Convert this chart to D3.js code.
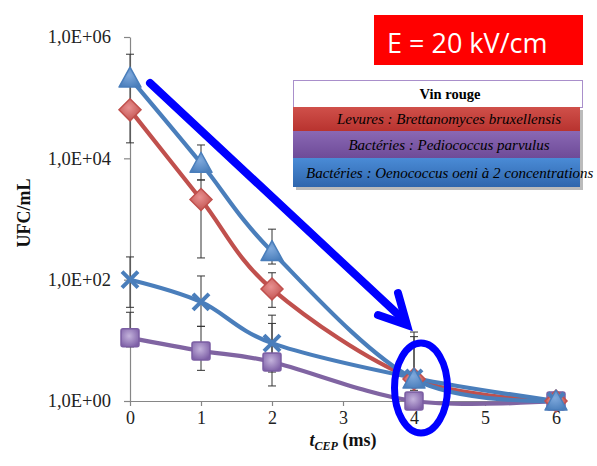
<!DOCTYPE html>
<html><head><meta charset="utf-8">
<script src="https://cdn.jsdelivr.net/npm/d3@7"></script>
<style>body{margin:0;background:#fff}svg{display:block}</style>
</head><body>
<svg id="c" width="597" height="466"></svg>
<script>
const xValues = [0, 1, 2, 4, 6];
const xTicks = [0, 1, 2, 3, 4, 5, 6];
const yTicks = [1, 100, 1e4, 1e6];
const yTickLabels = ["1,0E+00", "1,0E+02", "1,0E+04", "1,0E+06"];
const seriesNames = ["Pediococcus", "Brettanomyces", "Oenococcus bas", "Oenococcus haut"];
const pediococcus = [11, 6.7, 4.4, 1, 1];
const brettanomyces = [63000, 2100, 70, 2.3, 1];
const oenococcusLow = [100, 43, 9, 2.4, 1];
const oenococcusHigh = [210000, 8300, 290, 2.3, 1];
const errPediococcus = [[7.8, 29], [3.2, 17], [1.77, 19], null, null];
const errBrettanomyces = [null, [228, 4400], [35, 130], null, null];
const errOenococcusLow = [[35, 237], [17, 115], [3, 26], [2, 11.5], null];
const errOenococcusHigh = [[18000, 520000], [4400, 16600], [181, 680], [1.5, 13.7], null];
const legendTitle = "Vin rouge";
const legendItems = ["Levures : Brettanomyces bruxellensis", "Bactéries : Pediococcus parvulus", "Bactéries : Oenococcus oeni à 2 concentrations"];
const fieldLabel = "E = 20 kV/cm";

const svg = d3.select("#c");
const x = d3.scaleLinear().domain([0, 6]).range([130, 556]);
const y = d3.scaleLog().domain([1, 1e6]).range([401, 37]);

const defs = svg.append("defs");
function radial(id, inner, outer) {
  const g = defs.append("radialGradient").attr("id", id).attr("cx", "45%").attr("cy", "40%").attr("r", "65%");
  g.append("stop").attr("offset", "0%").attr("stop-color", inner);
  g.append("stop").attr("offset", "100%").attr("stop-color", outer);
}
radial("gPurple", "#c4b3dc", "#7d5fa6");
radial("gRed", "#e89090", "#c0504d");
radial("gBlue", "#7fa9dc", "#4a7ebb");
function linear(id, top, bottom) {
  const g = defs.append("linearGradient").attr("id", id).attr("x1", 0).attr("y1", 0).attr("x2", 0).attr("y2", 1);
  g.append("stop").attr("offset", "0%").attr("stop-color", top);
  g.append("stop").attr("offset", "100%").attr("stop-color", bottom);
}
linear("bRed", "#d0504a", "#b8332f");
linear("bPurple", "#8a68b4", "#6e4b98");
linear("bBlue", "#4a8bd6", "#2f66ad");

// axes
const axisColor = "#868686";
const yAxis = d3.axisLeft(y).tickValues(yTicks).tickFormat((d, i) => yTickLabels[i]).tickSize(6).tickSizeOuter(0);
const gy = svg.append("g").attr("transform", "translate(130,0)").call(yAxis);
gy.select(".domain").attr("stroke", axisColor).attr("stroke-width", 1.2);
gy.selectAll(".tick line").attr("stroke", axisColor).attr("stroke-width", 1.2);
gy.selectAll(".tick text").attr("font-family", "Liberation Serif").attr("font-size", 18.5).attr("fill", "#222").attr("x", -19);

const xAxis = d3.axisBottom(x).tickValues(xTicks).tickFormat(d3.format("d")).tickSize(5).tickSizeOuter(0);
const gx = svg.append("g").attr("transform", "translate(0,401)").call(xAxis);
gx.select(".domain").attr("stroke", axisColor).attr("stroke-width", 1.2);
gx.selectAll(".tick line").attr("stroke", axisColor).attr("stroke-width", 1.2);
gx.selectAll(".tick text").attr("font-family", "Liberation Serif").attr("font-size", 18).attr("fill", "#222").attr("y", 10).attr("dy", "0.71em");

// axis titles
svg.append("text").attr("transform", "translate(30,213) rotate(-90)").attr("text-anchor", "middle")
  .attr("font-family", "Liberation Serif").attr("font-weight", "bold").attr("font-size", 18).attr("fill", "#111").text("UFC/mL");
const xt = svg.append("text").attr("x", 343).attr("y", 446).attr("text-anchor", "middle")
  .attr("font-family", "Liberation Serif").attr("font-weight", "bold").attr("font-size", 18).attr("fill", "#111");
xt.append("tspan").attr("font-style", "italic").text("t");
xt.append("tspan").attr("font-style", "italic").attr("font-size", 12).attr("dy", 4).text("CEP");
xt.append("tspan").attr("dy", -4).text(" (ms)");

// error bars
const errs = [errPediococcus, errBrettanomyces, errOenococcusLow, errOenococcusHigh];
const gErr = svg.append("g").attr("stroke", "#333").attr("stroke-width", 1);
errs.forEach(arr => arr.forEach((e, i) => {
  if (!e) return;
  const cx = x(xValues[i]);
  gErr.append("line").attr("x1", cx).attr("x2", cx).attr("y1", y(e[0])).attr("y2", y(e[1]));
  gErr.append("line").attr("x1", cx - 4).attr("x2", cx + 4).attr("y1", y(e[0])).attr("y2", y(e[0]));
  gErr.append("line").attr("x1", cx - 4).attr("x2", cx + 4).attr("y1", y(e[1])).attr("y2", y(e[1]));
}));

// lines
const line = d3.line().x((d, i) => x(xValues[i])).y(d => y(d)).curve(d3.curveCardinal.tension(0));
const series = [
  {vals: pediococcus, color: "#8064a2", marker: "square", fill: "url(#gPurple)"},
  {vals: brettanomyces, color: "#c0504d", marker: "diamond", fill: "url(#gRed)"},
  {vals: oenococcusLow, color: "#4a7ebb", marker: "cross", fill: "#4a7ebb"},
  {vals: oenococcusHigh, color: "#4a7ebb", marker: "triangle", fill: "url(#gBlue)"}
];
series.forEach(s => {
  svg.append("path").attr("d", line(s.vals)).attr("fill", "none").attr("stroke", s.color).attr("stroke-width", 4.2).attr("stroke-linecap", "round");
});

// markers
series.forEach(s => {
  const g = svg.append("g");
  s.vals.forEach((v, i) => {
    const cx = x(xValues[i]), cy = y(v);
    if (s.marker === "square") {
      g.append("rect").attr("x", cx - 9).attr("y", cy - 9).attr("width", 18).attr("height", 18).attr("rx", 2)
        .attr("fill", s.fill).attr("stroke", "#7b5ea3").attr("stroke-width", 1.5);
    } else if (s.marker === "diamond") {
      g.append("path").attr("d", `M${cx},${cy - 11}L${cx + 11},${cy}L${cx},${cy + 11}L${cx - 11},${cy}Z`)
        .attr("fill", s.fill).attr("stroke", "#c0504d").attr("stroke-width", 1.5);
    } else if (s.marker === "triangle") {
      g.append("path").attr("d", `M${cx},${cy - 11}L${cx + 11},${cy + 9}L${cx - 11},${cy + 9}Z`)
        .attr("fill", s.fill).attr("stroke", "#4a7ebb").attr("stroke-width", 1.5).attr("stroke-linejoin", "round");
    } else {
      g.append("path").attr("d", `M${cx - 8},${cy - 8}L${cx + 8},${cy + 8}M${cx - 8},${cy + 8}L${cx + 8},${cy - 8}`)
        .attr("stroke", s.color).attr("stroke-width", 4).attr("stroke-linecap", "butt");
    }
  });
});

// annotation arrow and ellipse
const ann = "#0000ff";
svg.append("line").attr("x1", 150).attr("y1", 83).attr("x2", 405).attr("y2", 321)
  .attr("stroke", ann).attr("stroke-width", 8).attr("stroke-linecap", "round");
svg.append("path").attr("d", "M378,315L407,325L398,293").attr("fill", "none")
  .attr("stroke", ann).attr("stroke-width", 8).attr("stroke-linejoin", "miter").attr("stroke-linecap", "round");
svg.append("ellipse").attr("cx", 421).attr("cy", 388).attr("rx", 26.5).attr("ry", 45)
  .attr("fill", "none").attr("stroke", ann).attr("stroke-width", 7);

// red label box
svg.append("rect").attr("x", 374).attr("y", 15).attr("width", 209).attr("height", 50).attr("fill", "#ff0000");
svg.append("text").attr("x", 387).attr("y", 53).attr("font-family", "Open Sans").attr("font-size", 27)
  .attr("fill", "#fff").text(fieldLabel);

// legend
const lg = svg.append("g");
lg.append("rect").attr("x", 296).attr("y", 110).attr("width", 287).attr("height", 80).attr("fill", "#bbb");
lg.append("rect").attr("x", 293.5).attr("y", 80.5).attr("width", 289).attr("height", 27).attr("fill", "#fff").attr("stroke", "#a98fcb").attr("stroke-width", 1);
lg.append("text").attr("x", 450).attr("y", 99).attr("text-anchor", "middle").attr("font-family", "Liberation Serif")
  .attr("font-weight", "bold").attr("font-size", 14.5).attr("fill", "#000").text(legendTitle);
const bands = [["url(#bRed)", 107, 24], ["url(#bPurple)", 131, 27], ["url(#bBlue)", 158, 29]];
bands.forEach((b, i) => {
  lg.append("rect").attr("x", 293).attr("y", b[1]).attr("width", 287).attr("height", b[2]).attr("fill", b[0]);
  lg.append("text").attr("x", i === 2 ? 306 : 449).attr("y", b[1] + b[2] / 2 + 5)
    .attr("text-anchor", i === 2 ? "start" : "middle")
    .attr("font-family", "Liberation Serif").attr("font-style", "italic").attr("font-size", 15).attr("fill", "#000")
    .text(legendItems[i]);
});
</script>
</body></html>
